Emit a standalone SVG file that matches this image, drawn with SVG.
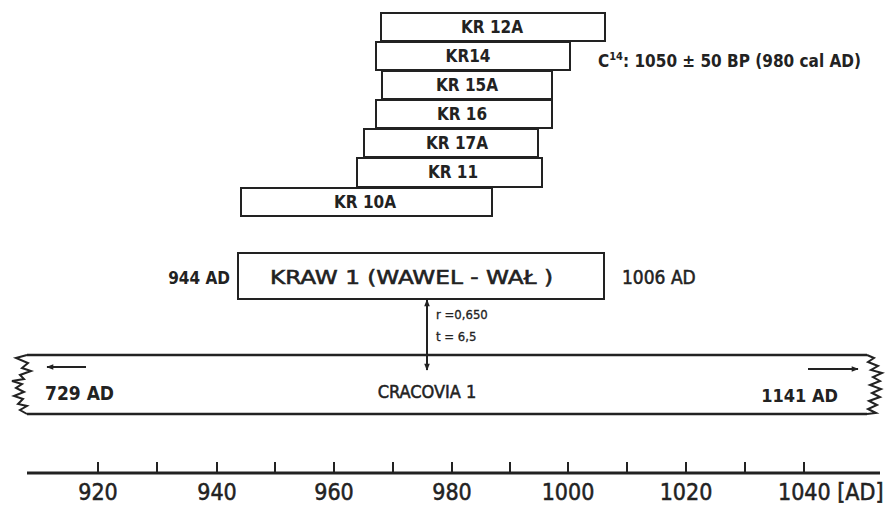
<svg xmlns="http://www.w3.org/2000/svg" width="895" height="507" viewBox="0 0 895 507">
<defs>
<style>
.box{fill:#fff;stroke:#222;stroke-width:2}
.t{font-family:"DejaVu Sans Condensed","DejaVu Sans",sans-serif;font-weight:bold;fill:#222}
.n{font-family:"DejaVu Sans Condensed","DejaVu Sans",sans-serif;font-weight:normal;fill:#222;stroke:#222;stroke-width:0.5}
.kr{font-size:17px;text-anchor:middle}
.ln{stroke:#222;stroke-width:2;fill:none}
.bd{stroke:#222;stroke-width:2.5;fill:none}
.ax{font-family:"DejaVu Sans Condensed","DejaVu Sans",sans-serif;font-size:23px;fill:#222;stroke:#222;stroke-width:0.5}
</style>
<marker id="ah" viewBox="0 0 10 10" refX="9" refY="5" markerWidth="10" markerHeight="7" orient="auto-start-reverse" markerUnits="userSpaceOnUse">
<path d="M0,1 L10,5 L0,9 z" fill="#222"/>
</marker>
</defs>
<rect width="895" height="507" fill="#fff"/>

<g id="kr12a"><rect class="box" x="381" y="13" width="224" height="28"/><text class="t kr" x="492" y="33">KR 12A</text></g>
<g id="kr14"><rect class="box" x="376" y="42" width="194" height="28"/><text class="t kr" x="468" y="62">KR14</text></g>
<g id="kr15a"><rect class="box" x="382" y="71" width="170" height="28"/><text class="t kr" x="467" y="91">KR 15A</text></g>
<g id="kr16"><rect class="box" x="376" y="100" width="176" height="28"/><text class="t kr" x="462" y="120">KR 16</text></g>
<g id="kr17a"><rect class="box" x="364" y="129" width="174" height="28"/><text class="t kr" x="457" y="149">KR 17A</text></g>
<g id="kr11"><rect class="box" x="357" y="158" width="185" height="29"/><text class="t kr" x="453" y="178">KR 11</text></g>
<g id="kr10a"><rect class="box" x="241" y="188" width="251" height="28"/><text class="t kr" x="365" y="208">KR 10A</text></g>

<g id="c14"><text class="t" x="598" y="67" font-size="17">C<tspan font-size="11" dy="-7">14</tspan><tspan dy="7">: 1050 ± 50 BP (980 cal AD)</tspan></text></g>

<g id="kraw1">
<rect class="box" x="238" y="253" width="366" height="46"/>
<text class="n" x="270" y="284" font-size="19" textLength="283" lengthAdjust="spacingAndGlyphs">KRAW 1  (WAWEL - WAŁ )</text>
<text class="t" x="230" y="284" font-size="17" style="text-anchor:end">944 AD</text>
<text class="n" x="622" y="284" font-size="19">1006 AD</text>
</g>

<g id="cracovia1">
<path class="bd" d="M27,355 L867,355"/>
<path class="bd" d="M27,414 L867,414"/>
<path class="ln" d="M27,355 L16,358 L28,363 L22,368 L31,371 L20,375 L24,379 L12,381 L22,384 L16,388 L24,392 L14,396 L23,399 L18,404 L27,406 L20,410 L27,414"/>
<path class="ln" d="M867,355 L874,358 L868,362 L878,366 L871,370 L882,373 L873,377 L880,381 L870,385 L881,389 L872,393 L880,397 L869,401 L877,405 L868,409 L876,413 L867,414"/>
<text class="n" x="427" y="398" font-size="18" style="text-anchor:middle">CRACOVIA 1</text>
<text class="t" x="45" y="400" font-size="19">729 AD</text>
<text class="t" x="838" y="402" font-size="18" style="text-anchor:end">1141 AD</text>
</g>

<g id="connectors">
<line class="ln" x1="86" y1="367" x2="47" y2="367" marker-end="url(#ah)"/>
<line class="ln" x1="808" y1="369" x2="858" y2="369" marker-end="url(#ah)"/>
<line class="ln" x1="427" y1="300" x2="427" y2="370" marker-start="url(#ah)" marker-end="url(#ah)"/>
<text class="n" x="436" y="319" font-size="13" style="stroke-width:0.3">r =0,650</text>
<text class="n" x="436" y="341" font-size="13" style="stroke-width:0.3">t = 6,5</text>
</g>

<g id="axis">
<path d="M27,473 L880,473" stroke="#222" stroke-width="3" fill="none"/>
<path class="ln" d="M98,462V473M157,462V473M217,462V473M275,462V473M334,462V473M393,462V473M452,462V473M510,462V473M568,462V473M627,462V473M686,462V473M745,462V473M804,462V473"/>
<g style="text-anchor:middle">
<text class="ax" x="98" y="500">920</text>
<text class="ax" x="217" y="500">940</text>
<text class="ax" x="334" y="500">960</text>
<text class="ax" x="452" y="500">980</text>
<text class="ax" x="568" y="500">1000</text>
<text class="ax" x="686" y="500">1020</text>
</g>
<text class="ax" x="778" y="500" style="text-anchor:start">1040 [AD]</text>
</g>
</svg>
